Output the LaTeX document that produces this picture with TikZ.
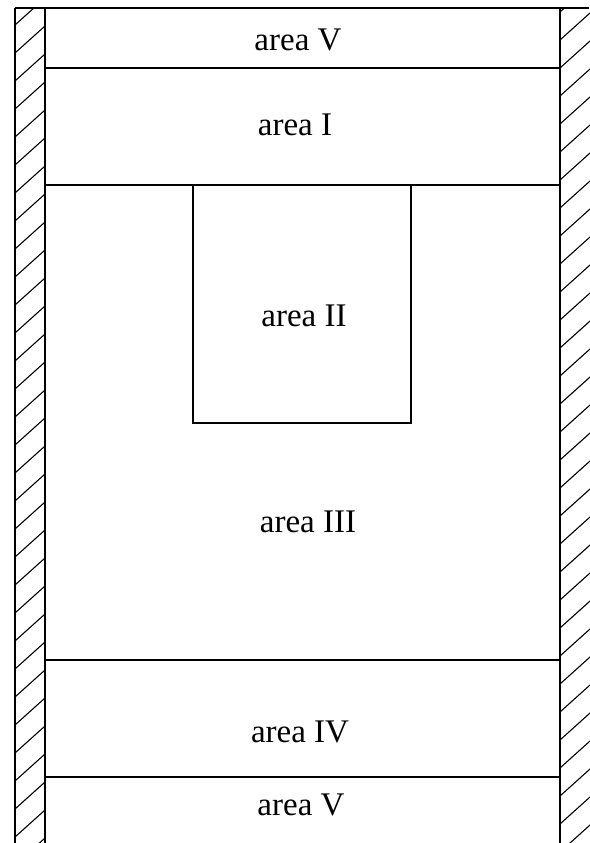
\documentclass[tikz,border=0pt]{standalone}
\usepackage{fontspec}
\setmainfont{Liberation Serif}
\begin{document}
\begin{tikzpicture}[x=1pt,y=-1pt,line width=1.4pt,
  lbl/.style={font=\fontsize{33}{36}\selectfont,inner sep=0pt,anchor=base},
  hatch/.style={line width=1.1pt}]
\useasboundingbox (0,0) rectangle (589,843);
% walls
\draw (15,8) -- (15,843);
\draw (45,8) -- (45,843);
\draw (560,8) -- (560,843);
\draw (15,8) -- (589,8);
% hatching
\begin{scope}
  \clip (15,8) rectangle (45,843);
  \foreach \k in {0,...,31}
    \draw[hatch] (15,{-3+28*\k}) -- (45,{-30+28*\k});
\end{scope}
\begin{scope}
  \clip (560,8) rectangle (591,843);
  \foreach \k in {0,...,31}
    \draw[hatch] (560,{12+28*\k}) -- (590,{-15+28*\k});
\end{scope}
% area boundaries
\draw (45,68) -- (560,68);
\draw (45,185) -- (560,185);
\draw (45,660) -- (560,660);
\draw (45,777) -- (560,777);
\draw (193,185) rectangle (411,423);
% labels
\node[lbl] (v1) at (298,51) {area V};
\node[lbl] (a1) at (295,135) {area I};
\node[lbl] (a2) at (304,326) {area II};
\node[lbl] (a3) at (308,532) {area III};
\node[lbl] (a4) at (300,742) {area IV};
\node[lbl] (v2) at (301,815) {area V};
\end{tikzpicture}
\end{document}
